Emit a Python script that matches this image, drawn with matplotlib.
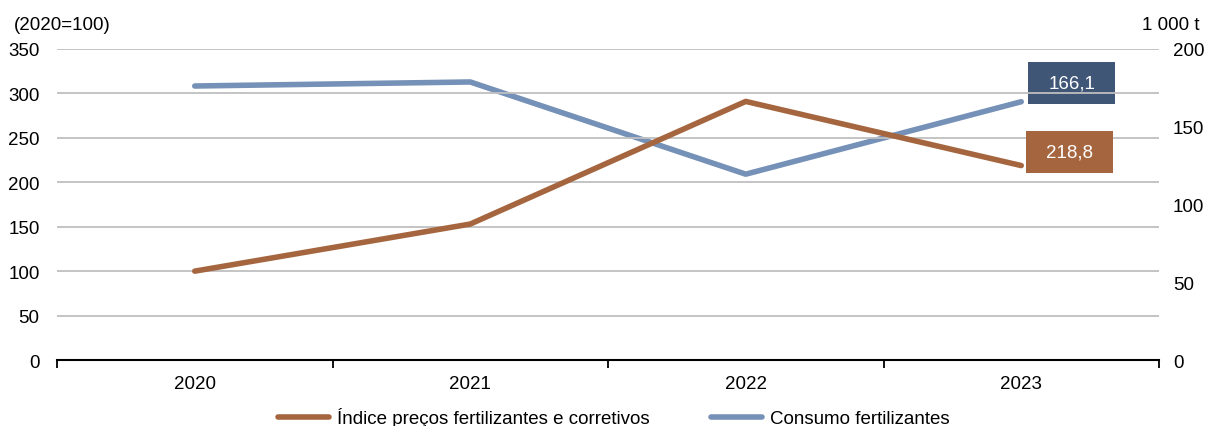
import matplotlib
matplotlib.use("Agg")
import matplotlib.pyplot as plt
import matplotlib.transforms as mtransforms
from matplotlib.patches import Rectangle
from matplotlib.lines import Line2D

plt.rcParams['font.family'] = ['Liberation Sans', 'DejaVu Sans']

years = ["2020", "2021", "2022", "2023"]
price_index = [100.0, 153.0, 291.0, 218.8]
consumption = [176.2, 178.8, 119.5, 166.1]
left_ticks = [0, 50, 100, 150, 200, 250, 300, 350]
right_ticks = [0, 50, 100, 150, 200]
label_price = "Índice preços fertilizantes e corretivos"
label_cons = "Consumo fertilizantes"

c_brown = "#A5663F"
c_blue = "#7591B8"
c_blue_box = "#3F5676"
FS = 13.5

fig = plt.figure(figsize=(12.09, 4.27), dpi=100)
ax = fig.add_axes([57/1209, 1-361/427, (1159-57)/1209, (361-50)/427])
ax2 = ax.twinx()

x = list(range(len(years)))
ax.set_xlim(-0.5, len(years)-0.5)
ax.set_ylim(0, 350)
ax2.set_ylim(0, 200)

for t in left_ticks[1:]:
    ax.axhline(t, color="#BFBFBF", lw=1.3, zorder=1)

ax.plot(x, price_index, color=c_brown, lw=4, solid_capstyle="round", zorder=3)
ax2.plot(x, consumption, color=c_blue, lw=4, solid_capstyle="round", zorder=3)
ax.set_zorder(ax2.get_zorder()+1)
ax.patch.set_visible(False)

for a in (ax, ax2):
    for s in a.spines.values():
        s.set_visible(False)
ax.spines['bottom'].set_visible(True)
ax.spines['bottom'].set_color("black")
ax.spines['bottom'].set_linewidth(1.5)

ax.set_yticks(left_ticks)
ax.set_yticklabels([str(t) for t in left_ticks], fontsize=FS)
ax2.set_yticks(right_ticks)
ax2.set_yticklabels([str(t) for t in right_ticks], fontsize=FS)
ax.tick_params(axis='y', length=0, pad=12.5)
ax2.tick_params(axis='y', length=0, pad=10)

ax.set_xticks([i - 0.5 for i in range(len(years)+1)])
ax.set_xticklabels([])
ax.set_xticks(x, minor=True)
ax.set_xticklabels(years, minor=True, fontsize=FS)
ax.tick_params(axis='x', which='major', length=6, width=1.3, direction='out', color='black')
ax.tick_params(axis='x', which='minor', length=0, pad=11)

fig.text(14/1209, 1-25/427, "(2020=100)", fontsize=FS, ha='left', va='center')
fig.text(1200/1209, 1-25/427, "1 000 t", fontsize=FS, ha='right', va='center')


def value_box(axis, xv, yv, text, color, x0, y0, w, h):
    """Box drawn at pixel offsets (x0, y0, w, h) from the data point."""
    trans = fig.dpi_scale_trans + mtransforms.ScaledTranslation(xv, yv, axis.transData)
    rect = Rectangle((x0/100, y0/100), w/100, h/100, transform=trans,
                     facecolor=color, edgecolor='none', zorder=5, clip_on=False)
    axis.add_patch(rect)
    axis.text((x0 + w/2)/100, (y0 + h/2)/100, text, transform=trans, ha='center',
              va='center', color='white', fontsize=FS, zorder=6, clip_on=False)


value_box(ax2, x[-1], consumption[-1], f"{consumption[-1]:.1f}".replace(".", ","),
          c_blue_box, 7, -2, 87, 42)
value_box(ax, x[-1], price_index[-1], f"{price_index[-1]:.1f}".replace(".", ","),
          c_brown, 5, -7, 87, 42)

handles = [Line2D([], [], color=c_brown, lw=4, solid_capstyle='round'),
           Line2D([], [], color=c_blue, lw=4, solid_capstyle='round')]
fig.legend(handles, [label_price, label_cons], loc='center', bbox_to_anchor=(614/1209, 1-418.5/427),
           ncol=2, frameon=False, fontsize=FS, handlelength=2.7, handletextpad=0.45,
           columnspacing=3.3, borderpad=0, borderaxespad=0)

fig.savefig("out.png", dpi=100)
